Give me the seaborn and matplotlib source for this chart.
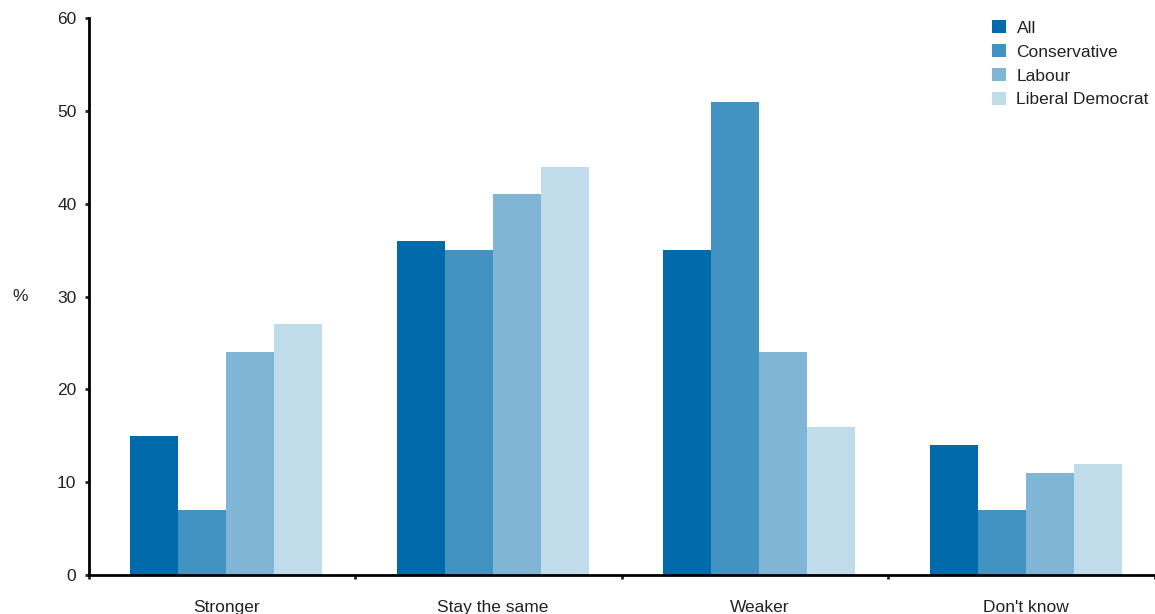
import pandas as pd
import matplotlib.pyplot as plt
import seaborn as sns
from matplotlib.ticker import FixedLocator, NullFormatter

categories = ['Stronger', 'Stay the same', 'Weaker', "Don't know"]
groups = ['All', 'Conservative', 'Labour', 'Liberal Democrat']
all_vals = [15, 36, 35, 14]
conservative = [7, 35, 51, 7]
labour = [24, 41, 24, 11]
lib_dem = [27, 44, 16, 12]
colors = ['#016aab', '#4292c2', '#81b5d5', '#c0dbe9']

rows = []
for g, vals in zip(groups, [all_vals, conservative, labour, lib_dem]):
    for c, v in zip(categories, vals):
        rows.append({'category': c, 'group': g, 'value': v})
df = pd.DataFrame(rows)

sns.set_style('white')
plt.rcParams['font.family'] = ['Liberation Sans', 'DejaVu Sans']

fig = plt.figure(figsize=(11.55, 6.14), dpi=100)
ax = fig.add_axes([0.077, 0.0635, 0.923, 0.907])

sns.barplot(data=df, x='category', y='value', hue='group', order=categories,
            hue_order=groups, palette=colors, width=0.72, saturation=1,
            edgecolor='none', linewidth=0, ax=ax)

# group boundaries sit slightly left of the bar clusters in the original
off = 0.015
ax.set_xlim(-0.5 - off, 3.5 - off)
ax.set_ylim(0, 60)
ax.set_yticks(range(0, 61, 10))
ax.set_xlabel('')
ax.set_ylabel('%', rotation=0, fontsize=12.5, color='#222222', va='center')
ax.yaxis.set_label_coords(-0.065, 0.5)

for side in ['top', 'right']:
    ax.spines[side].set_visible(False)
for side in ['left', 'bottom']:
    ax.spines[side].set_linewidth(2)
    ax.spines[side].set_color('black')

ax.tick_params(axis='y', which='major', direction='out', length=3, width=2,
               left=True, labelsize=12.5, labelcolor='#222222', pad=6)
ax.tick_params(axis='x', which='major', length=0, labelsize=12.5,
               labelcolor='#222222', pad=18)
ax.xaxis.set_minor_locator(FixedLocator([k - 0.5 - off for k in range(5)]))
ax.xaxis.set_minor_formatter(NullFormatter())
ax.tick_params(axis='x', which='minor', direction='out', length=3, width=2,
               bottom=True)

handles, labels = ax.get_legend_handles_labels()
ax.legend(handles, labels, loc='upper right', bbox_to_anchor=(1.004, 1.015),
          frameon=False, fontsize=12.5, handlelength=0.8, handleheight=0.8,
          handletextpad=0.6, labelspacing=0.47, borderaxespad=0.2,
          labelcolor='#222222')

fig.savefig('out.png', dpi=100)
